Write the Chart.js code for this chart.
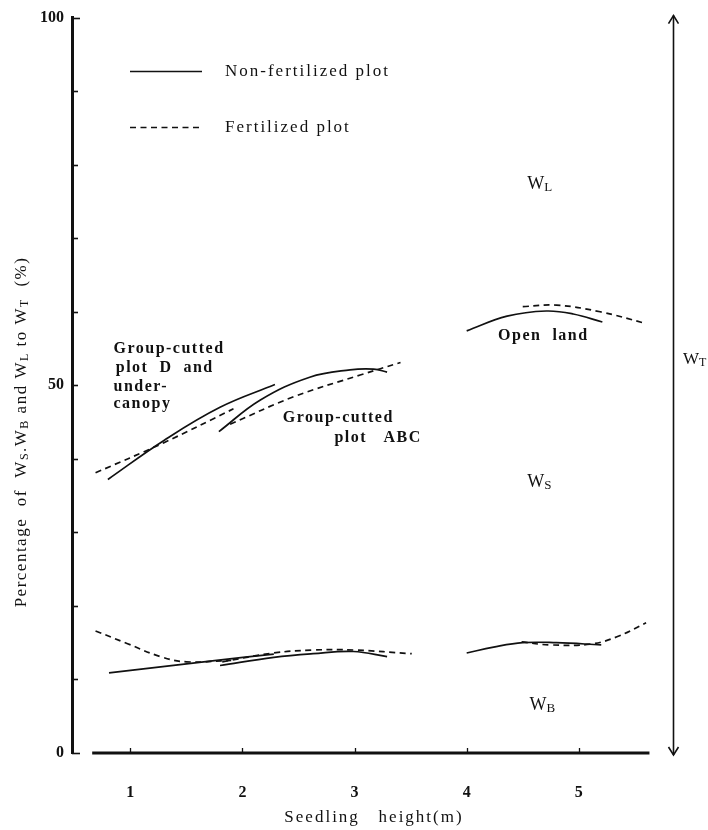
<!DOCTYPE html>
<html>
<head>
<meta charset="utf-8">
<script src="https://cdn.jsdelivr.net/npm/chart.js@4.4.1/dist/chart.umd.min.js"></script>
<style>
  html, body { margin: 0; padding: 0; background: #fff; }
  canvas { display: block; }
</style>
</head>
<body>
<canvas id="chart" width="708" height="830"></canvas>
<script>
// values: seedling height (m) vs. % of WT
const xTicks = [1, 2, 3, 4, 5];
const yTicks = [0, 10, 20, 30, 40, 50, 60, 70, 80, 90, 100];
const yLabels = [0, 50, 100];

// upper curves (WS / WL boundary)
const xD_nf = [0.80, 1.30, 1.80, 2.29];
const upD_nf = [37.2, 42.5, 47.0, 50.1];
const xD_f = [0.69, 1.30, 1.92];
const upD_f = [38.1, 42.2, 46.8];
const xABC_nf = [1.79, 2.16, 2.60, 2.96, 3.17, 3.29];
const upABC_nf = [43.7, 48.0, 51.1, 52.1, 52.2, 51.8];
const xABC_f = [1.89, 2.45, 3.05, 3.41];
const upABC_f = [44.7, 48.4, 51.4, 53.1];
const xOpen_nf = [4.00, 4.36, 4.71, 4.95, 5.21];
const upOpen_nf = [57.4, 59.4, 60.1, 59.7, 58.6];
const xOpen_f = [4.50, 4.80, 5.19, 5.60];
const upOpen_f = [60.7, 60.9, 60.0, 58.4];

// lower curves (WB / WS boundary)
const xDlow_nf = [0.81, 1.27, 1.77, 2.28];
const lowD_nf = [10.9, 11.7, 12.6, 13.45];
const xDlow_f = [0.69, 0.97, 1.27, 1.50, 1.90];
const lowD_f = [16.6, 14.9, 13.1, 12.4, 12.6];
const xABClow_nf = [1.80, 2.28, 2.63, 2.99, 3.29];
const lowABC_nf = [11.9, 13.0, 13.5, 13.8, 13.1];
const xABClow_f = [1.82, 2.28, 2.63, 3.00, 3.51];
const lowABC_f = [12.4, 13.6, 14.0, 14.0, 13.5];
const xOpenlow_nf = [4.00, 4.24, 4.50, 4.80, 5.20];
const lowOpen_nf = [13.6, 14.4, 15.0, 15.0, 14.7];
const xOpenlow_f = [4.49, 4.74, 5.10, 5.34, 5.60];
const lowOpen_f = [15.1, 14.7, 14.8, 15.8, 17.7];

const INK = '#111';
const SERIF = '"Liberation Serif", "DejaVu Serif", serif';
const DASH = [6, 4.5];

function series(xs, ys, dashed) {
  return {
    data: xs.map((x, i) => ({ x: x, y: ys[i] })),
    borderColor: INK,
    borderWidth: 1.7,
    borderDash: dashed ? DASH : [],
    pointRadius: 0,
    tension: 0.4,
    fill: false
  };
}

const datasets = [
  series(xD_nf, upD_nf, false),
  series(xD_f, upD_f, true),
  series(xABC_nf, upABC_nf, false),
  series(xABC_f, upABC_f, true),
  series(xOpen_nf, upOpen_nf, false),
  series(xOpen_f, upOpen_f, true),
  series(xDlow_nf, lowD_nf, false),
  series(xDlow_f, lowD_f, true),
  series(xABClow_nf, lowABC_nf, false),
  series(xABClow_f, lowABC_f, true),
  series(xOpenlow_nf, lowOpen_nf, false),
  series(xOpenlow_f, lowOpen_f, true)
];

// text placed in data coordinates [text, x, y]
const notes = [
  ['Group-cutted', 0.85, 55.0],
  ['plot  D  and', 0.87, 52.4],
  ['under-', 0.85, 49.8],
  ['canopy', 0.85, 47.5],
  ['Group-cutted', 2.36, 45.6],
  ['plot   ABC', 2.82, 42.9],
  ['Open  land', 4.28, 56.7]
];

function line(ctx, x1, y1, x2, y2) {
  ctx.beginPath();
  ctx.moveTo(x1, y1);
  ctx.lineTo(x2, y2);
  ctx.stroke();
}

// text with small subscript letters: parts = [[text, isSub], ...]
function richWidth(ctx, parts, size, subSize) {
  let w = 0;
  parts.forEach(p => {
    ctx.font = (p[1] ? subSize : size) + 'px ' + SERIF;
    w += ctx.measureText(p[0]).width;
  });
  return w;
}
function richText(ctx, parts, x, y, size, subSize) {
  ctx.textBaseline = 'alphabetic';
  ctx.textAlign = 'left';
  parts.forEach(p => {
    ctx.font = (p[1] ? subSize : size) + 'px ' + SERIF;
    ctx.fillText(p[0], x, y + (p[1] ? 2 : 0));
    x += ctx.measureText(p[0]).width;
  });
}

const decor = {
  id: 'decor',
  afterDraw(chart) {
    const { ctx, chartArea: a, scales: { x, y } } = chart;
    ctx.save();
    ctx.strokeStyle = INK;
    ctx.fillStyle = INK;

    // inward y ticks
    ctx.lineWidth = 1.6;
    yTicks.forEach(v => {
      const py = Math.round(y.getPixelForValue(v)) + 0.5;
      const len = (v === 0 || v === 100) ? 8 : 6;
      line(ctx, a.left, py, a.left + len, py);
    });

    // x axis line (detached from y axis) and inward ticks
    ctx.lineWidth = 3;
    line(ctx, x.getPixelForValue(0.66), a.bottom, x.getPixelForValue(5.63), a.bottom);
    ctx.lineWidth = 1.3;
    xTicks.forEach(v => {
      const px = Math.round(x.getPixelForValue(v)) + 0.5;
      line(ctx, px, a.bottom, px, a.bottom - 5);
    });

    // WT double arrow on the right
    const ax = a.right + 0.5;
    ctx.lineWidth = 1.6;
    line(ctx, ax, a.top - 2, ax, a.bottom + 2);
    ctx.beginPath();
    ctx.moveTo(ax - 5, a.top + 6); ctx.lineTo(ax, a.top - 2); ctx.lineTo(ax + 5, a.top + 6);
    ctx.moveTo(ax - 5, a.bottom - 6); ctx.lineTo(ax, a.bottom + 2); ctx.lineTo(ax + 5, a.bottom - 6);
    ctx.stroke();

    // legend
    ctx.lineWidth = 1.7;
    line(ctx, 130, 71.5, 202, 71.5);
    ctx.setLineDash(DASH);
    line(ctx, 130, 127.5, 202, 127.5);
    ctx.setLineDash([]);
    ctx.font = '17px ' + SERIF;
    ctx.letterSpacing = '2px';
    ctx.textBaseline = 'middle';
    ctx.textAlign = 'left';
    ctx.fillText('Non-fertilized plot', 225, 72);
    ctx.fillText('Fertilized plot', 225, 128);

    // curve notes
    ctx.font = 'bold 16px ' + SERIF;
    ctx.letterSpacing = '1.5px';
    notes.forEach(n => {
      ctx.fillText(n[0], x.getPixelForValue(n[1]), y.getPixelForValue(n[2]));
    });

    // x title
    ctx.font = '17px ' + SERIF;
    ctx.letterSpacing = '2px';
    ctx.textAlign = 'center';
    ctx.fillText('Seedling   height(m)', 374, 818);

    // region labels WL, WS, WB, WT
    ctx.letterSpacing = '0px';
    const region = [['L', 4.54, 77.5], ['S', 4.54, 37.0], ['B', 4.56, 6.7]];
    region.forEach(r => {
      richText(ctx, [['W', false], [r[0], true]],
        x.getPixelForValue(r[1]), y.getPixelForValue(r[2]) + 6, 18, 13);
    });
    richText(ctx, [['W', false], ['T', true]], a.right + 10, 364, 17, 12);

    // y title, rotated, with subscripts
    const parts = [['Percentage  of  W', false], ['S', true], ['.W', false], ['B', true],
      [' and W', false], ['L', true], [' to W', false], ['T', true], ['  (%)', false]];
    ctx.letterSpacing = '1.5px';
    const w = richWidth(ctx, parts, 17, 12);
    ctx.translate(26, 432);
    ctx.rotate(-Math.PI / 2);
    richText(ctx, parts, -w / 2, 0, 17, 12);

    ctx.restore();
  }
};

new Chart(document.getElementById('chart'), {
  type: 'line',
  data: { datasets: datasets },
  options: {
    responsive: false,
    animation: false,
    devicePixelRatio: 1,
    layout: { padding: { left: 0, right: 35, top: 16, bottom: 0 } },
    plugins: { legend: { display: false }, tooltip: { enabled: false } },
    scales: {
      x: {
        type: 'linear',
        min: 0.48,
        max: 5.84,
        afterFit: s => { s.height = 77; },
        afterBuildTicks: s => { s.ticks = xTicks.map(v => ({ value: v })); },
        grid: { display: false, drawTicks: false },
        border: { display: false },
        ticks: { padding: 30, color: INK, font: { family: SERIF, size: 16, weight: 'bold' } }
      },
      y: {
        min: 0,
        max: 100,
        afterFit: s => { s.width = 72; },
        afterBuildTicks: s => { s.ticks = yLabels.map(v => ({ value: v })); },
        grid: { display: false, drawTicks: false },
        border: { display: true, color: INK, width: 3 },
        ticks: { padding: 8, color: INK, font: { family: SERIF, size: 16, weight: 'bold' } }
      }
    }
  },
  plugins: [decor]
});
</script>
</body>
</html>
